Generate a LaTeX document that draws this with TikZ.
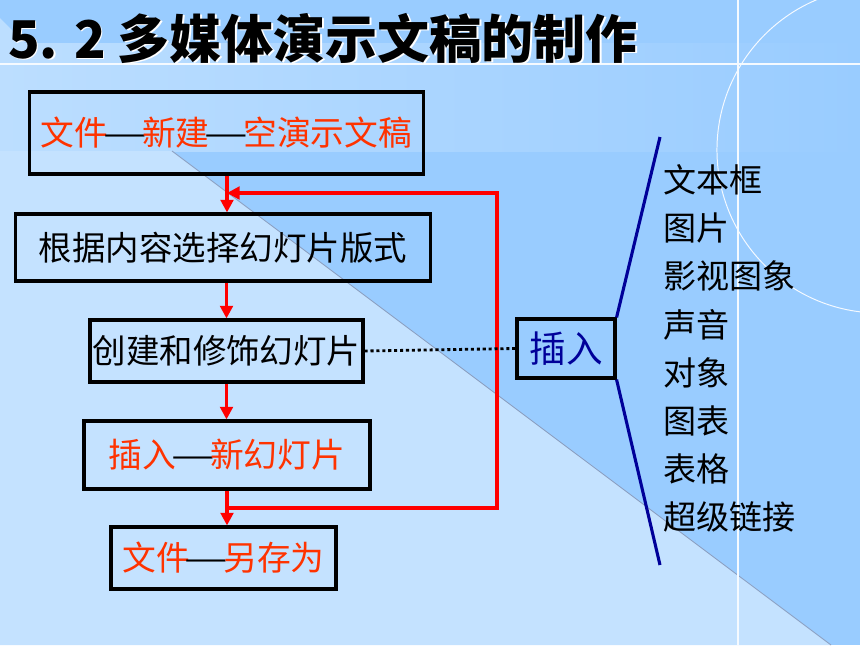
\documentclass[tikz,border=0pt]{standalone}
\usepackage{fontspec}
\newfontfamily\cjk{Noto Sans CJK SC}
\usetikzlibrary{arrows.meta}

\definecolor{slideblue}{HTML}{99CCFF}
\definecolor{slidelight}{HTML}{C4E2FF}
\definecolor{bandlight}{HTML}{BCDEFF}
\definecolor{diagline}{HTML}{8A9EC0}
\definecolor{textred}{HTML}{FF3300}
\definecolor{arrowred}{HTML}{FF0000}
\definecolor{insblue}{HTML}{000099}

\newcommand{\sepdash}{\makebox[1em]{\textcolor{black}{\scalebox{1.45}[1]{—}}}}

\begin{document}
\begin{tikzpicture}[x=0.025cm, y=-0.025cm,
    stepbox/.style={draw=black, line width=2.2pt, inner sep=0pt,
      font=\cjk\fontsize{23.8}{28}\selectfont},
    redtext/.style={text=textred, font=\cjk\fontsize{24}{28}\selectfont},
    flow/.style={draw=arrowred, line width=2.8pt, -{Triangle[length=9pt,width=9pt]}},
    branch/.style={draw=insblue, line width=2.2pt},
    itemtext/.style={anchor=west, inner sep=0pt, font=\cjk\fontsize{23.5}{28}\selectfont},
    headline/.style={anchor=west, inner sep=0pt, font=\cjk\bfseries\fontsize{37}{42}\selectfont}]
          \useasboundingbox (0,0) rectangle (860,645);

          % slide background
          \begin{scope}
            \clip (0,0) rectangle (860,645);
            \fill[slideblue] (0,0) rectangle (860,645);
            \shade[left color=bandlight, right color=slideblue] (0,43) rectangle (860,151);
            \fill[bandlight] (0,18) -- (25,43) -- (0,43) -- cycle;
            \fill[slidelight] (0,151) -- (172,151) -- (831,645) -- (0,645) -- cycle;
            \draw[diagline, line width=0.6pt] (172,151) -- (831,645);
            \draw[white!90!slideblue, line width=0.9pt] (0,64) -- (860,64);
            \draw[white!90!slideblue, line width=0.9pt] (738,0) -- (738,645);
            \draw[white!90!slideblue, line width=0.7pt] (880,150) circle [radius=4.075cm];
          \end{scope}

          \node[headline, text=white] (shadow) at (9.5,39.5) {5. 2 多媒体演示文稿的制作};
          \node[headline, text=black] (title) at (8,38) {5. 2 多媒体演示文稿的制作};

          \node[stepbox, minimum width=9.825cm, minimum height=2.05cm, redtext] (new) at (226.5,133)
            {文件\sepdash 新建\sepdash 空演示文稿};
          \node[stepbox, minimum width=10.35cm, minimum height=1.675cm] (layout) at (223,247.5)
            {根据内容选择幻灯片版式};
          \node[stepbox, minimum width=6.825cm, minimum height=1.55cm] (edit) at (226.5,351)
            {创建和修饰幻灯片};
          \node[stepbox, minimum width=7.15cm, minimum height=1.7cm, redtext] (slide) at (227,455)
            {插入\sepdash 新幻灯片};
          \node[stepbox, minimum width=5.625cm, minimum height=1.55cm, redtext] (save) at (223.5,558)
            {文件\sepdash 另存为};

          \node[stepbox, minimum width=2.45cm, minimum height=1.475cm, text=insblue,
            font=\cjk\fontsize{26}{30}\selectfont] (insert) at (566,348.5) {插入};

          \coordinate (back) at (227,193);
          \coordinate (join) at (227,508);
          \coordinate (loopb) at (497,508);
          \coordinate (loopt) at (497,193);
          \coordinate (top) at (660,137);
          \coordinate (bot) at (660,565);

          \draw[flow] (new.south -| back) -- (layout.north -| back);
          \draw[flow] (layout.south -| edit.north) -- (edit.north);
          \draw[flow] (edit.south) -- (slide.north -| edit.south);
          \draw[flow] (slide.south -| join) -- (save.north -| join);
          \draw[flow] (join) -- (loopb) -- (loopt) -- (back);

          \draw[line width=2pt, dash pattern=on 2.2pt off 2pt] (edit.east) -- (insert.west);

          \draw[branch] (insert.north east) -- (top);
          \draw[branch] (insert.south east) -- (bot);

          \foreach \txt [count=\i] in {文本框,图片,影视图象,声音,对象,图表,表格,超级链接}{
            \node[itemtext] (item\i) at (663,131.86+48.14*\i) {\txt};
          }
        \end{tikzpicture}
\end{document}
